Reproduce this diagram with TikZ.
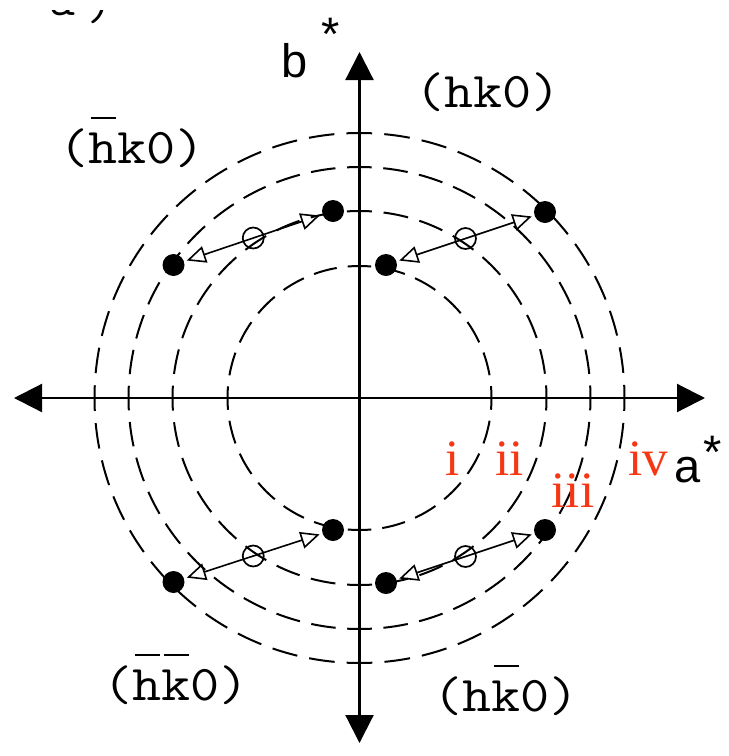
\documentclass[tikz,border=0pt]{standalone}
\usepackage{fontspec}
\usepackage{graphicx}
\newfontfamily\sanslabfont{Liberation Sans}
\newfontfamily\seriflabfont{Liberation Serif}
\usetikzlibrary{arrows.meta,calc}
\definecolor{redlab}{RGB}{245,55,20}
\newcommand{\obar}[1]{\makebox[0pt][l]{\hspace{2.2pt}\rule[44pt]{22pt}{2.4pt}}#1}
\newcommand{\wide}[1]{\scalebox{1.13}[1]{#1}}
\tikzset{
  axisline/.style={line width=2.2pt, {Triangle[length=28pt,width=28pt]}-{Triangle[length=28pt,width=28pt]}},
  ring/.style={line width=2pt},
  dot/.style={circle, fill=black, minimum size=22pt, inner sep=0pt, outer sep=0pt},
  ocirc/.style={circle, draw=black, line width=1.7pt, minimum size=21pt, inner sep=0pt},
  conn/.style={line width=1.6pt, {Triangle[open,length=19pt,width=17pt]}-{Triangle[open,length=19pt,width=17pt]}, shorten <=3pt, shorten >=3pt},
  monolab/.style={font=\ttfamily\fontsize{50}{60}\selectfont\addfontfeature{FakeBold=1.2}, inner sep=0pt, anchor=base},
  sanslab/.style={font=\sanslabfont\fontsize{47}{56}\selectfont, inner sep=0pt, anchor=base},
  redlabel/.style={font=\seriflabfont\fontsize{51}{60}\selectfont, text=redlab, inner sep=0pt, anchor=base},
}
\begin{document}
\begin{tikzpicture}[x=1pt,y=-1pt]
\useasboundingbox (0,0) rectangle (729,756);

% partially cut label at the top
\begin{scope}
  \clip (0,10) rectangle (729,756);
  \node[monolab] (cuta) at (62,15) {a};
  \node[monolab] (cutp) at (100,19) {)};
\end{scope}

\coordinate (C) at (359.5,398);
\coordinate (W) at (14,398);
\coordinate (E) at (705,398);
\coordinate (N) at (359.5,52);
\coordinate (S) at (359.5,743);

% dashed circles
\foreach \r/\n in {132/6, 187/8, 231/10, 265/11} {
  \pgfmathsetmacro\per{pi*\r/2/\n}
  \pgfmathsetmacro\on{0.68*\per}
  \pgfmathsetmacro\off{\per-\on}
  \pgfmathsetmacro\ph{\on/2}
  \draw[ring, dash pattern=on \on pt off \off pt, dash phase=\ph pt] (C) circle[radius=\r];
}

% axes
\draw[axisline] (W) -- (E);
\draw[axisline] (S) -- (N);

% dots
\node[dot] (a1) at (333,211) {};
\node[dot] (a2) at (173.5,265) {};
\node[dot] (b1) at (386,265) {};
\node[dot] (b2) at (545,212) {};
\node[dot] (c1) at (333,530) {};
\node[dot] (c2) at (173.5,582) {};
\node[dot] (d1) at (386,583) {};
\node[dot] (d2) at (545,530) {};

% connectors
\draw[conn] (a2) -- (a1);
\draw[conn] (b1) -- (b2);
\draw[conn] (c2) -- (c1);
\draw[conn] (d1) -- (d2);

% open circles at midpoints
\node[ocirc] (am) at ($(a1)!0.5!(a2)$) {};
\node[ocirc] (bm) at ($(b1)!0.5!(b2)$) {};
\node[ocirc] (cm) at ($(c1)!0.5!(c2)$) {};
\node[ocirc] (dm) at ($(d1)!0.5!(d2)$) {};

% quadrant labels
\node[monolab] (qtr) at (488,107) {\wide{(hk0)}};
\node[monolab] (qtl) at (132,163) {\wide{(\obar{h}k0)}};
\node[monolab] (qbl) at (176,700) {\wide{(\obar{h}\obar{k}0)}};
\node[monolab] (qbr) at (506,711) {\wide{(h\obar{k}0)}};

% axis labels
\node[sanslab] (blab) at (295,77) {b};
\node[sanslab] (bstar) at (331,50) {*};
\node[sanslab] (alab) at (687.5,482) {a};
\node[sanslab] (astar) at (713,468) {*};

% red ring labels
\node[redlabel] (ri) at (453,475) {i};
\node[redlabel] (rii) at (509.5,475) {ii};
\node[redlabel] (riii) at (573,507) {iii};
\node[redlabel] (riv) at (648,475) {iv};
\end{tikzpicture}
\end{document}
